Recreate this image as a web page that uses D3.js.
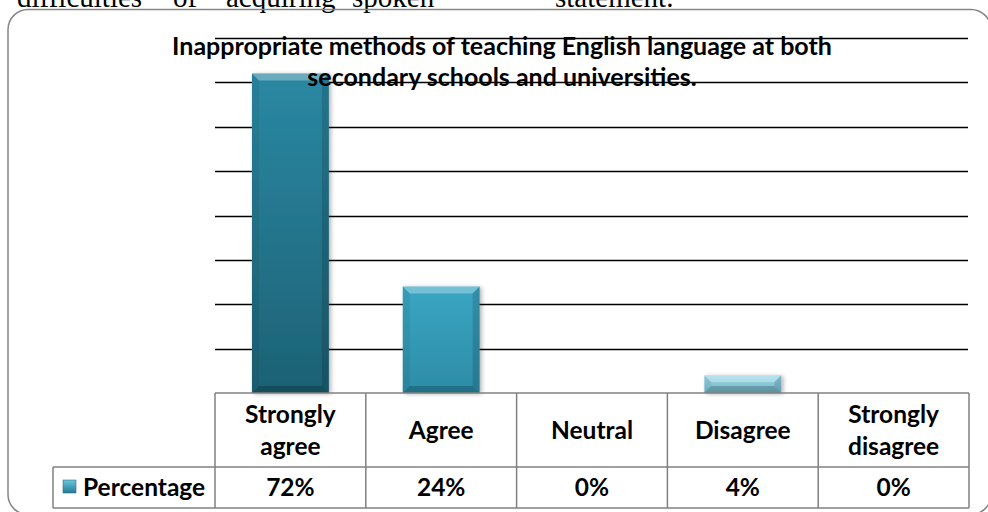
<!DOCTYPE html>
<html>
<head>
<meta charset="utf-8">
<script src="https://cdn.jsdelivr.net/npm/d3@7"></script>
<style>
  body { margin: 0; background: #fff; }
  svg { display: block; }
</style>
</head>
<body>
<div id="chart"></div>
<script>
//  data
var categories = [["Strongly", "agree"], ["Agree"], ["Neutral"], ["Disagree"], ["Strongly", "disagree"]];
var percentages = [72, 24, 0, 4, 0];
var value_labels = ["72%", "24%", "0%", "4%", "0%"];
var series_name = "Percentage";
var y_ticks = [10, 20, 30, 40, 50, 60, 70, 80];
var title_lines = ["Inappropriate methods of teaching English language at both", "secondary schools and universities."];

//  bar colours (top, bottom) per category
var bar_colors = [["#2a88a3", "#1d6174"], ["#3aa6c3", "#2d8ca7"], ["#3aa6c3", "#2d8ca7"], ["#98d6e6", "#74b8cb"], ["#98d6e6", "#74b8cb"]];

var FONT = "Lato, 'Open Sans', sans-serif";

function draw_chart() {
  const w = 988, h = 512;
  const margin = {top: 38, right: 19, bottom: 119, left: 215};

  const svg = d3.select("#chart").append("svg").attr("width", w).attr("height", h);
  const defs = svg.append("defs");

  const x = d3.scaleBand().domain(d3.range(categories.length)).range([margin.left, w - margin.right]).padding(0);
  const y = d3.scaleLinear().domain([0, 80]).range([h - margin.bottom, margin.top]);

  // text from the page above (clipped, as in the source)
  const above = svg.append("text")
    .attr("y", 7)
    .style("font-family", "'Liberation Serif', 'Times New Roman', serif")
    .style("font-size", "29px");
  [["difficulties", 17], ["of", 173], ["acquiring", 226], ["spoken", 352], ["statement.", 555]].forEach(d => {
    above.append("tspan").attr("x", d[1]).text(d[0]);
  });

  // outer frame
  svg.append("rect")
    .attr("x", 8).attr("y", 9.5)
    .attr("width", 983).attr("height", 505)
    .attr("rx", 20)
    .attr("fill", "none")
    .attr("stroke", "#868686")
    .attr("stroke-width", 1.5);

  // gridlines
  svg.append("g").selectAll("line").data(y_ticks).enter()
    .append("line")
    .attr("x1", margin.left)
    .attr("x2", w - margin.right - 1)
    .attr("y1", d => Math.round(y(d)) + 0.5)
    .attr("y2", d => Math.round(y(d)) + 0.5)
    .attr("stroke", "#000")
    .attr("stroke-width", 1.5);

  // gradients
  bar_colors.forEach((c, i) => {
    const g = defs.append("linearGradient").attr("id", "grad" + i)
      .attr("x1", 0).attr("y1", 0).attr("x2", 0).attr("y2", 1);
    g.append("stop").attr("offset", "0%").attr("stop-color", c[0]);
    g.append("stop").attr("offset", "100%").attr("stop-color", c[1]);
  });
  const shadow = defs.append("filter").attr("id", "shadow")
    .attr("x", "-20%").attr("y", "-20%").attr("width", "140%").attr("height", "140%");
  shadow.append("feDropShadow").attr("dx", 2).attr("dy", 1).attr("stdDeviation", 2)
    .attr("flood-color", "#000").attr("flood-opacity", 0.3);

  // bars
  const bw = x.bandwidth() * 0.51;
  const bars = svg.append("g").selectAll("g").data(percentages).enter()
    .filter(d => d > 0)
    .append("g")
    .attr("filter", "url(#shadow)");

  bars.each(function(d) {
    const i = percentages.indexOf(d);
    const g = d3.select(this);
    const x0 = x(i) + (x.bandwidth() - bw) / 2, x1 = x0 + bw;
    const y0 = y(d), y1 = y(0);
    const b = Math.min(7, (y1 - y0) / 2.5);
    g.append("rect")
      .attr("x", x0).attr("y", y0)
      .attr("width", bw).attr("height", y1 - y0)
      .attr("fill", "url(#grad" + i + ")");
    // bevel: top light, sides and bottom dark
    g.append("polygon")
      .attr("points", [[x0, y0], [x1, y0], [x1 - b, y0 + b], [x0 + b, y0 + b]].join(" "))
      .attr("fill", "#fff").attr("opacity", 0.3);
    g.append("polygon")
      .attr("points", [[x0, y0], [x0 + b, y0 + b], [x0 + b, y1 - b], [x0, y1]].join(" "))
      .attr("fill", "#000").attr("opacity", 0.06);
    g.append("polygon")
      .attr("points", [[x1, y0], [x1 - b, y0 + b], [x1 - b, y1 - b], [x1, y1]].join(" "))
      .attr("fill", "#000").attr("opacity", 0.14);
    g.append("polygon")
      .attr("points", [[x0, y1], [x0 + b, y1 - b], [x1 - b, y1 - b], [x1, y1]].join(" "))
      .attr("fill", "#000").attr("opacity", 0.2);
  });

  // title
  svg.append("g").selectAll("text").data(title_lines).enter()
    .append("text")
    .attr("x", 502)
    .attr("y", (d, i) => 55 + i * 31)
    .attr("text-anchor", "middle")
    .style("font-family", FONT)
    .style("font-weight", "bold")
    .style("font-size", "25px")
    .text(d => d);

  // data table
  const tTop = y(0), tMid = 467, tBot = 508, legLeft = 53;
  const tbl = svg.append("g")
    .attr("fill", "none")
    .attr("stroke", "#808080")
    .attr("stroke-width", 1.5);
  tbl.append("line").attr("x1", margin.left).attr("x2", w - margin.right).attr("y1", tTop).attr("y2", tTop);
  tbl.append("line").attr("x1", legLeft).attr("x2", w - margin.right).attr("y1", tMid).attr("y2", tMid);
  tbl.append("line").attr("x1", legLeft).attr("x2", w - margin.right).attr("y1", tBot).attr("y2", tBot);
  tbl.append("line").attr("x1", legLeft).attr("x2", legLeft).attr("y1", tMid).attr("y2", tBot);
  tbl.selectAll(".col").data(d3.range(categories.length + 1)).enter()
    .append("line")
    .attr("x1", i => i < categories.length ? x(i) : w - margin.right)
    .attr("x2", i => i < categories.length ? x(i) : w - margin.right)
    .attr("y1", tTop).attr("y2", tBot);

  // header labels
  const hdr = svg.append("g").selectAll("text").data(categories).enter()
    .append("text")
    .attr("text-anchor", "middle")
    .style("font-family", FONT)
    .style("font-weight", "bold")
    .style("font-size", "24.5px");
  hdr.each(function(d, i) {
    const cx = x(i) + x.bandwidth() / 2;
    const start = d.length == 1 ? 439 : 423;
    d.forEach((s, k) => {
      d3.select(this).append("tspan").attr("x", cx).attr("y", start + k * 32).text(s);
    });
  });

  // value labels
  svg.append("g").selectAll("text").data(value_labels).enter()
    .append("text")
    .attr("x", (d, i) => x(i) + x.bandwidth() / 2)
    .attr("y", 496)
    .attr("text-anchor", "middle")
    .style("font-family", FONT)
    .style("font-weight", "bold")
    .style("font-size", "24.5px")
    .text(d => d);

  // legend key
  const lg = defs.append("linearGradient").attr("id", "legGrad")
    .attr("x1", 0).attr("y1", 0).attr("x2", 0).attr("y2", 1);
  lg.append("stop").attr("offset", "0%").attr("stop-color", "#6cc7e0");
  lg.append("stop").attr("offset", "100%").attr("stop-color", "#237a93");
  svg.append("rect")
    .attr("x", 63).attr("y", 480)
    .attr("width", 13).attr("height", 13)
    .attr("fill", "url(#legGrad)")
    .attr("stroke", "#1d6174").attr("stroke-width", 0.5);
  svg.append("text")
    .attr("x", 83).attr("y", 496)
    .style("font-family", FONT)
    .style("font-weight", "bold")
    .style("font-size", "24.5px")
    .text(series_name);

  return svg.node();
}

draw_chart();
</script>
</body>
</html>
